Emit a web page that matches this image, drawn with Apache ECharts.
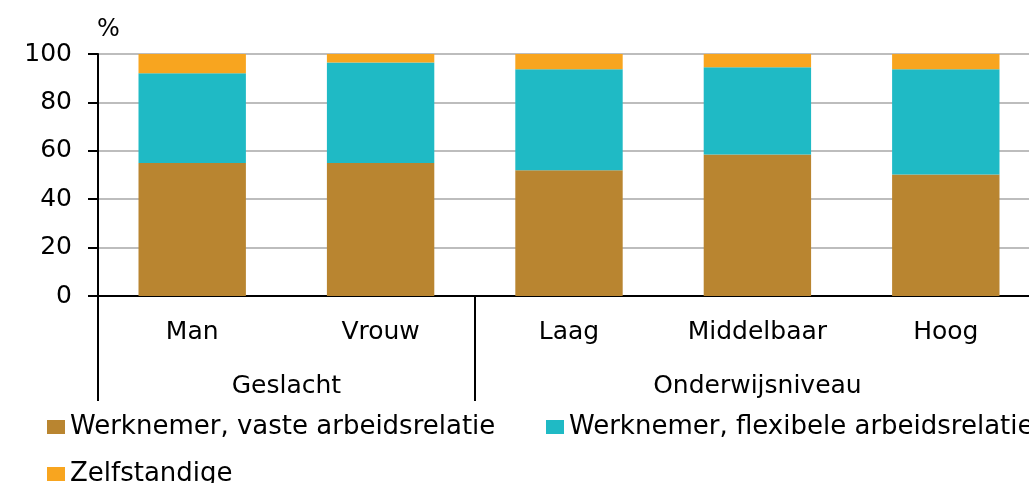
<!DOCTYPE html>
<html>
<head>
<meta charset="utf-8">
<script src="https://cdn.jsdelivr.net/npm/echarts@6/dist/echarts.min.js"></script>
<style>
  html, body { margin: 0; padding: 0; background: #fff; }
  #chart { width: 1029px; height: 483px; }
</style>
</head>
<body>
<div id="chart"></div>
<script>
// categorieën en groepen
var categories = ['Man', 'Vrouw', 'Laag', 'Middelbaar', 'Hoog'];
var groups = ['Geslacht', 'Onderwijsniveau'];
var groupCenters = [1, 3.5];      // midden van elke groep, in categorie-eenheden
var groupBounds = [0, 2, 5];      // scheidslijnen tussen groepen

// aandelen in %
var vast = [55, 55, 52, 58.5, 50.2];
var flexibel = [37, 41.5, 41.7, 36, 43.5];
var zelfstandig = [8, 3.5, 6.3, 5.5, 6.3];

var yTicks = [0, 20, 40, 60, 80, 100];

var font = 'DejaVu Sans';
var legendText = { fontFamily: font, fontSize: 26, color: '#000' };
var chart = echarts.init(document.getElementById('chart'));

chart.setOption({
    animation: false,
    textStyle: { fontFamily: font, color: '#000' },
    title: {
        text: '%',
        left: 92,
        top: 13,
        textStyle: { fontFamily: font, fontSize: 24, fontWeight: 'normal', color: '#000' }
    },
    legend: [
        {
            data: ['Werknemer, vaste arbeidsrelatie'],
            left: 42, top: 409, itemWidth: 18, itemHeight: 14, icon: 'rect',
            textStyle: legendText
        },
        {
            data: ['Werknemer, flexibele arbeidsrelatie'],
            left: 541, top: 409, width: 600, itemWidth: 18, itemHeight: 14, icon: 'rect',
            textStyle: legendText
        },
        {
            data: ['Zelfstandige'],
            left: 42, top: 456, itemWidth: 18, itemHeight: 14, icon: 'rect',
            textStyle: legendText
        }
    ],
    grid: { left: 98, top: 54, bottom: 187, right: -11, outerBoundsMode: 'none' },
    xAxis: [
        {
            type: 'category',
            data: categories,
            axisLine: { lineStyle: { color: '#000', width: 2 } },
            axisTick: { show: false },
            axisLabel: { fontFamily: font, fontSize: 25, color: '#000', margin: 24 }
        },
        {
            type: 'value',
            min: 0,
            max: categories.length,
            position: 'bottom',
            axisLine: { show: false },
            splitLine: { show: false },
            axisTick: {
                show: true,
                customValues: groupBounds,
                length: 105,
                lineStyle: { color: '#000', width: 2 }
            },
            axisLabel: {
                customValues: groupCenters,
                fontFamily: font,
                fontSize: 25,
                color: '#000',
                margin: 78,
                formatter: function (v) { return groups[groupCenters.indexOf(v)]; }
            }
        }
    ],
    yAxis: {
        type: 'value',
        min: 0,
        max: 100,
        interval: 20,
        axisLine: { show: true, lineStyle: { color: '#000', width: 2 } },
        axisTick: { show: true, inside: false, length: 10, lineStyle: { color: '#000', width: 2 } },
        splitLine: { lineStyle: { color: '#bdbdbd', width: 2 } },
        axisLabel: {
            fontFamily: font, fontSize: 25, color: '#000', margin: 26,
            formatter: function (v) { return yTicks.indexOf(v) >= 0 ? String(v) : ''; }
        }
    },
    series: [
        { name: 'Werknemer, vaste arbeidsrelatie', type: 'bar', stack: 'a', barWidth: '57%',
          data: vast, itemStyle: { color: '#b98530' } },
        { name: 'Werknemer, flexibele arbeidsrelatie', type: 'bar', stack: 'a',
          data: flexibel, itemStyle: { color: '#1fbac5' } },
        { name: 'Zelfstandige', type: 'bar', stack: 'a',
          data: zelfstandig, itemStyle: { color: '#f8a51f' } }
    ]
});
</script>
</body>
</html>
